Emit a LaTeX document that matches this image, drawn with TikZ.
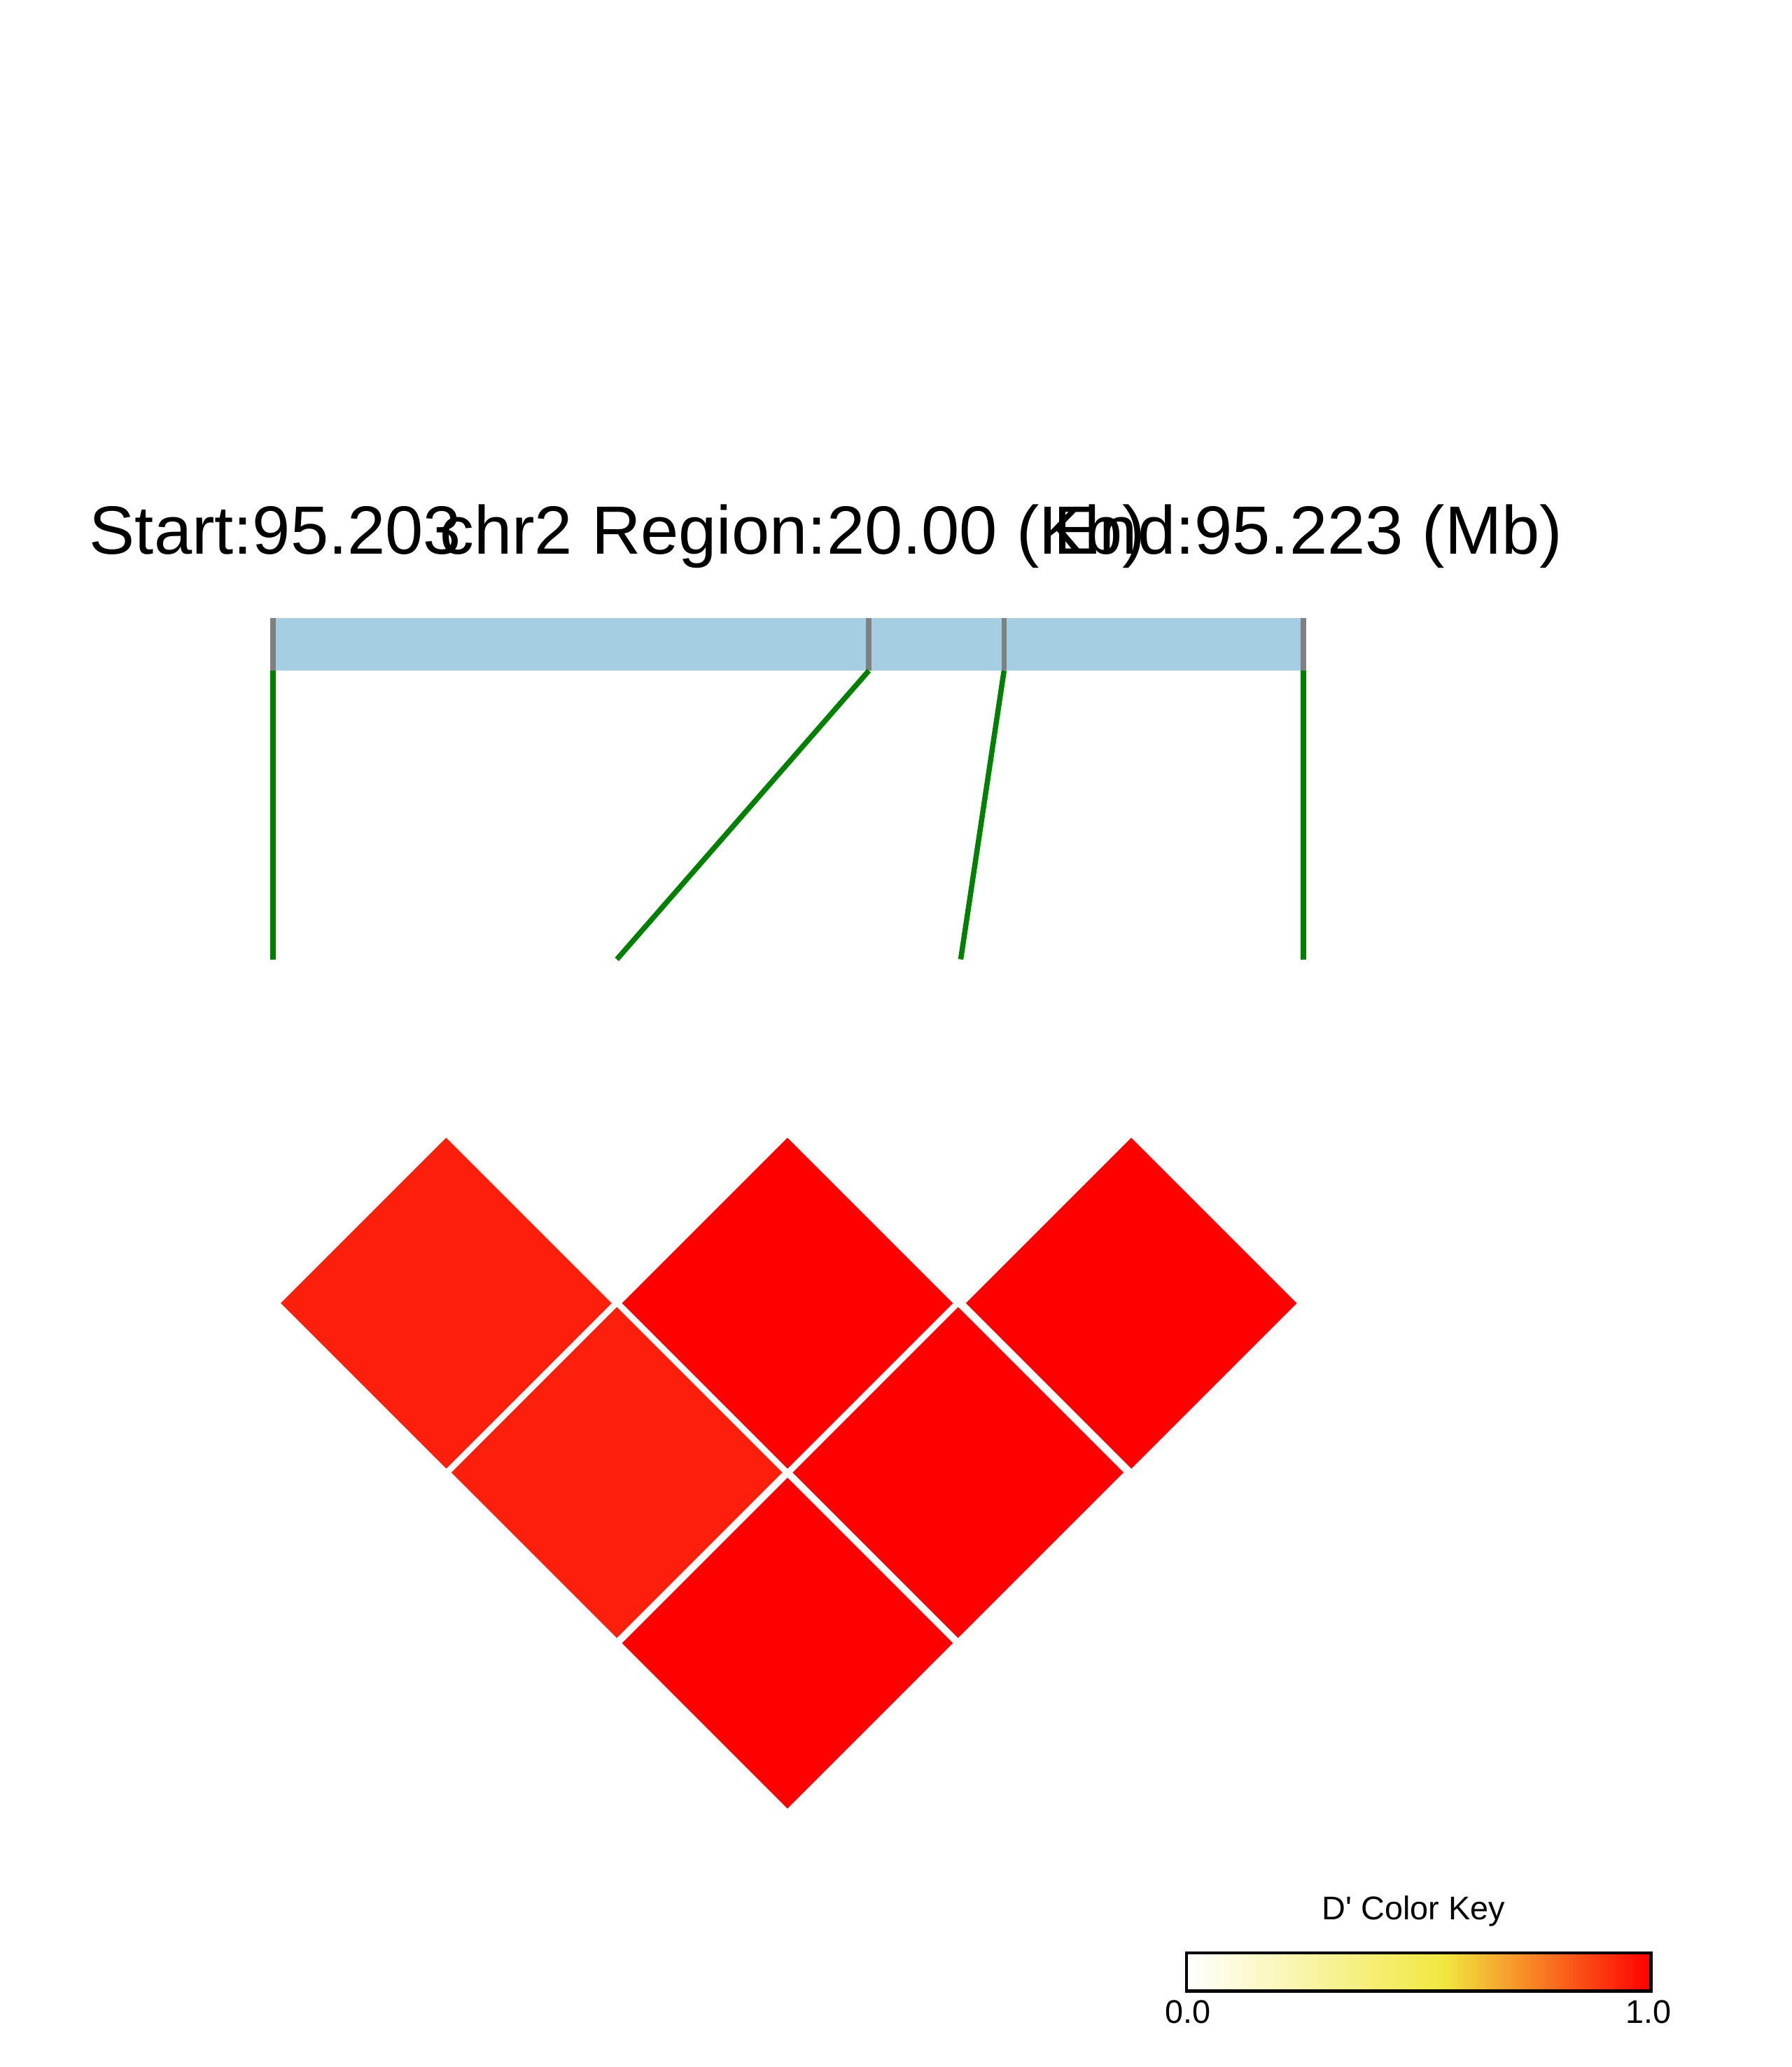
\documentclass[tikz,border=0pt]{standalone}
\usepackage{fontspec}
\setmainfont{Liberation Sans}
\definecolor{barblue}{RGB}{166,206,227}
\definecolor{ldred}{RGB}{252,32,12}
\definecolor{kyel}{RGB}{240,232,64}
\begin{document}
\begin{tikzpicture}[x=1pt,y=-1pt,
  tick/.style={gray,line width=4pt},
  glink/.style={green!50!black,line width=4pt},
  cell/.style={draw=white,line width=4pt},
  keyfont/.style={font=\fontsize{25}{28}\selectfont},
  title/.style={font=\fontsize{52}{60}\selectfont,anchor=base west,inner sep=0}]
\useasboundingbox (0,0) rectangle (1365,1575);
\node[title] (s) at (68,422) {Start:95.203};
\node[title] (r) at (335,422) {chr2 Region:20.00 (Kb)};
\node[title] (e) at (803,422) {End:95.223 (Mb)};
\fill[barblue] (208,471) rectangle (993,511);
\foreach \x/\n in {208/a,662/b,765/c,993/d}{
  \draw[tick] (\x,471) -- (\x,511);
  \coordinate (t\n) at (\x,511);}
\coordinate (ba) at (208,731);
\coordinate (bb) at (470,731);
\coordinate (bc) at (732,731);
\coordinate (bd) at (993,731);
\foreach \n in {a,b,c,d}{\draw[glink] (t\n) -- (b\n);}
\foreach \cx/\cy/\c in {340/993/ldred,470/1122/ldred,600/993/red,730/1122/red,862/993/red,600/1252/red}{
  \filldraw[cell,fill=\c] (\cx,\cy-129) -- (\cx+129,\cy) -- (\cx,\cy+129) -- (\cx-129,\cy) -- cycle;}
\node[keyfont] (kl) at (1077,1456) {D\textquotesingle{} Color Key};
\shade[left color=white,right color=kyel] (904,1488) rectangle (1100,1517);
\shade[left color=kyel,right color=red] (1099.5,1488) rectangle (1258,1517);
\draw[black,line width=2.5pt] (904,1488) rectangle (1258,1517);
\node[keyfont] (k0) at (905,1533) {0.0};
\node[keyfont] (k1) at (1256,1533) {1.0};
\end{tikzpicture}
\end{document}
